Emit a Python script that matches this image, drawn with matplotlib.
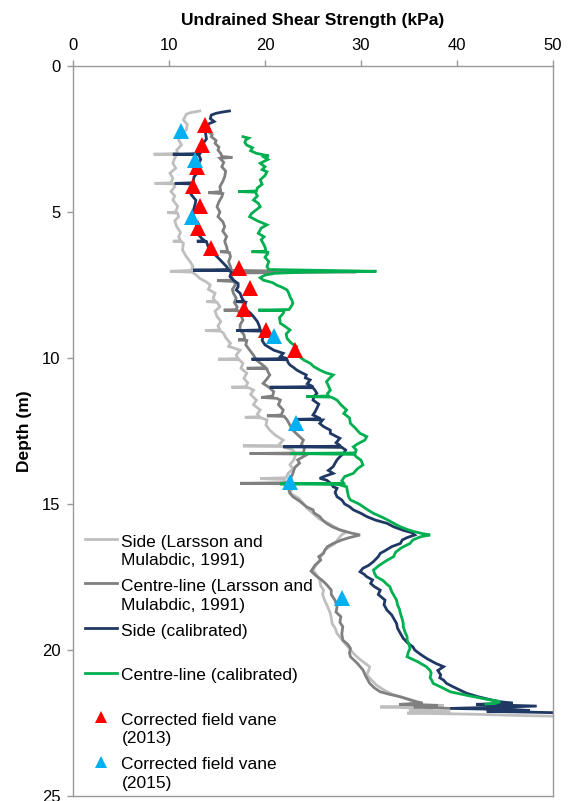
import numpy as np
import matplotlib
matplotlib.use('Agg')
import matplotlib.pyplot as plt
from matplotlib.legend_handler import HandlerLine2D

plt.rcParams['font.family'] = ['Liberation Sans', 'DejaVu Sans']

# profiles: (depth m, su kPa)
side_lm = [
    (1.54, 13.2), (1.6, 12.2), (1.65, 11.8), (1.85, 11.5), (2.0, 11.9), (2.19, 11.8),
    (2.35, 11.2), (2.53, 11.0), (2.7, 11.3), (2.88, 10.8), (3.0, 10.9), (3.02, 8.4),
    (3.04, 10.8), (3.15, 10.6), (3.33, 10.4), (3.5, 10.7), (3.67, 10.1), (3.85, 10.4),
    (4.0, 10.2), (4.02, 8.5), (4.04, 10.5), (4.13, 10.6), (4.3, 10.2), (4.45, 10.6),
    (4.59, 10.4), (4.8, 10.9), (5.0, 10.7), (5.02, 9.8), (5.04, 10.9), (5.16, 11.0),
    (5.3, 10.6), (5.5, 10.8), (5.7, 11.2), (5.85, 11.0), (5.98, 11.2), (6.0, 10.4),
    (6.02, 11.3), (6.07, 11.5), (6.3, 11.4), (6.53, 11.8), (6.7, 12.2), (6.87, 12.5),
    (7.0, 12.3), (7.03, 10.1), (7.06, 12.4), (7.15, 12.8), (7.27, 13.2), (7.4, 13.9),
    (7.5, 14.3), (7.65, 14.1), (7.78, 14.8), (7.95, 14.6), (8.05, 14.8), (8.07, 13.9),
    (8.09, 15.0), (8.24, 15.3), (8.4, 14.8), (8.58, 15.0), (8.75, 15.4), (8.9, 15.1),
    (9.04, 15.3), (9.06, 13.75), (9.08, 15.4), (9.16, 15.7), (9.3, 15.9), (9.5, 16.4),
    (9.6, 16.2), (9.73, 17.4), (9.9, 17.0), (10.02, 17.2), (10.04, 15.1), (10.06, 17.3),
    (10.18, 17.7), (10.35, 17.5), (10.52, 18.1), (10.7, 17.8), (10.85, 18.2), (10.98, 18.0),
    (11.0, 16.5), (11.02, 18.3), (11.1, 18.8), (11.25, 18.5), (11.44, 19.1), (11.6, 18.8),
    (11.78, 19.5), (11.92, 19.2), (12.01, 19.4), (12.03, 17.9), (12.05, 19.6), (12.12, 20.2),
    (12.3, 20.1), (12.47, 20.5), (12.65, 21.1), (12.81, 21.9), (12.95, 21.5), (13.0, 21.6),
    (13.01, 17.7), (13.03, 21.8), (13.15, 22.9), (13.3, 23.2), (13.49, 23.0), (13.65, 22.6),
    (13.8, 22.9), (13.95, 22.4), (14.1, 22.2), (14.13, 19.5), (14.16, 22.0), (14.35, 22.3),
    (14.5, 22.8), (14.63, 22.6), (14.8, 23.5), (14.98, 24.0), (15.15, 24.4), (15.32, 25.0),
    (15.5, 25.6), (15.66, 26.6), (15.85, 27.6), (15.95, 28.5), (16.05, 28.0), (16.2, 27.6),
    (16.35, 27.3), (16.55, 26.3), (16.75, 25.9), (16.92, 25.7), (17.1, 25.3), (17.26, 25.0),
    (17.4, 25.3), (17.6, 25.7), (17.8, 25.8), (17.95, 26.1), (18.1, 26.0), (18.29, 26.2),
    (18.5, 26.5), (18.74, 26.8), (18.9, 26.9), (19.1, 27.0), (19.25, 27.3), (19.43, 27.5),
    (19.6, 27.9), (19.8, 28.4), (19.95, 28.8), (20.11, 29.2), (20.3, 29.8), (20.45, 30.4),
    (20.57, 30.9), (20.7, 30.8), (20.85, 30.6), (21.03, 31.1), (21.2, 31.6), (21.35, 32.3),
    (21.48, 33.0), (21.62, 34.2), (21.77, 35.6), (21.85, 35.0), (21.9, 38.6), (21.95, 32.0),
    (22.0, 37.5), (22.05, 35.0), (22.11, 39.3), (22.16, 34.8), (22.2, 42.0), (22.24, 46.2),
    (22.28, 52.0),
]

centre_lm = [
    (2.25, 14.1), (2.35, 14.5), (2.42, 14.4), (2.55, 14.9), (2.65, 14.8), (2.78, 15.2),
    (2.88, 15.1), (3.0, 15.4), (3.1, 15.5), (3.13, 16.6), (3.16, 15.3), (3.3, 15.7),
    (3.45, 15.5), (3.6, 15.9), (3.79, 15.8), (3.95, 15.6), (4.13, 15.3), (4.3, 15.4),
    (4.34, 14.1), (4.37, 15.6), (4.48, 15.5), (4.65, 15.2), (4.82, 15.0), (5.0, 15.3),
    (5.16, 15.1), (5.33, 15.6), (5.5, 15.8), (5.65, 15.6), (5.84, 16.0), (6.0, 15.8),
    (6.19, 16.0), (6.34, 16.1), (6.36, 15.3), (6.39, 16.3), (6.53, 16.4), (6.7, 16.2),
    (6.87, 16.4), (7.0, 16.5), (7.05, 29.5), (7.09, 16.6), (7.21, 16.5), (7.33, 16.7),
    (7.35, 15.0), (7.38, 16.8), (7.5, 16.9), (7.65, 16.6), (7.78, 16.7), (7.95, 17.0),
    (8.1, 16.8), (8.25, 17.1), (8.34, 17.0), (8.36, 15.7), (8.38, 17.2), (8.55, 17.5),
    (8.7, 17.7), (8.87, 17.4), (9.04, 17.4), (9.2, 17.8), (9.36, 17.9), (9.38, 17.2),
    (9.4, 18.1), (9.55, 18.0), (9.73, 18.4), (9.9, 18.8), (10.07, 19.1), (10.2, 19.6),
    (10.3, 20.0), (10.33, 20.1), (10.35, 18.1), (10.37, 20.2), (10.47, 20.3), (10.58, 20.5),
    (10.72, 20.2), (10.87, 19.8), (11.0, 20.4), (11.15, 20.9), (11.3, 20.8), (11.35, 19.6),
    (11.38, 21.2), (11.44, 21.6), (11.6, 21.4), (11.78, 21.9), (11.95, 21.7), (11.98, 20.2),
    (12.0, 22.0), (12.12, 22.3), (12.3, 22.6), (12.47, 22.9), (12.6, 23.3), (12.69, 23.6),
    (12.81, 24.0), (12.95, 23.8), (13.1, 24.1), (13.25, 24.0), (13.27, 18.4), (13.29, 24.2),
    (13.32, 24.3), (13.49, 23.4), (13.6, 23.6), (13.75, 23.1), (13.95, 22.9), (14.1, 22.7),
    (14.27, 22.8), (14.29, 17.4), (14.31, 22.6), (14.41, 22.6), (14.55, 22.5), (14.63, 22.6),
    (14.75, 22.9), (14.9, 23.6), (15.09, 24.3), (15.2, 25.0), (15.3, 25.1), (15.43, 25.7),
    (15.55, 26.0), (15.66, 26.4), (15.78, 27.0), (15.89, 27.8), (15.98, 28.8), (16.06, 29.9),
    (16.15, 28.8), (16.23, 28.0), (16.35, 27.1), (16.46, 26.5), (16.6, 26.2), (16.69, 26.1),
    (16.8, 25.6), (16.92, 25.8), (17.1, 25.2), (17.3, 24.8), (17.45, 25.3), (17.6, 25.9),
    (17.72, 26.3), (17.83, 26.6), (17.95, 26.9), (18.1, 26.9), (18.3, 27.3), (18.52, 27.5),
    (18.7, 27.4), (18.86, 27.9), (19.05, 27.8), (19.2, 28.1), (19.45, 28.0), (19.66, 28.1),
    (19.8, 28.6), (19.94, 28.9), (20.1, 28.8), (20.23, 28.9), (20.45, 29.6), (20.68, 30.2),
    (20.9, 30.5), (21.14, 30.9), (21.3, 31.4), (21.43, 32.0), (21.52, 33.0), (21.6, 34.1),
    (21.68, 34.9), (21.77, 35.8), (21.82, 36.4), (21.86, 34.0), (21.9, 38.0), (21.95, 35.5),
    (22.0, 39.3),
]

side_cal = [
    (1.54, 16.3), (1.58, 15.5), (1.62, 14.9), (1.68, 14.4), (1.8, 14.3), (1.9, 14.7),
    (2.0, 14.0), (2.15, 14.2), (2.3, 13.8), (2.5, 13.9), (2.67, 13.5), (2.85, 13.6),
    (3.0, 13.2), (3.02, 10.4), (3.04, 13.1), (3.2, 13.3), (3.45, 12.9), (3.6, 13.1),
    (3.8, 12.6), (4.0, 12.5), (4.02, 10.6), (4.04, 12.4), (4.2, 12.6), (4.4, 12.3),
    (4.6, 12.8), (4.76, 12.7), (5.0, 12.5), (5.2, 12.6), (5.4, 12.9), (5.6, 12.8),
    (5.75, 13.0), (5.9, 13.4), (5.98, 13.7), (6.0, 12.9), (6.02, 13.9), (6.2, 14.1),
    (6.35, 14.4), (6.53, 15.0), (6.7, 15.5), (6.87, 16.0), (6.97, 16.2), (6.99, 12.5),
    (7.01, 16.3), (7.07, 16.5), (7.21, 16.35), (7.33, 16.7), (7.45, 17.2), (7.56, 17.2),
    (7.67, 17.0), (7.78, 17.4), (7.95, 17.6), (8.05, 17.8), (8.07, 17.0), (8.09, 18.0),
    (8.2, 17.9), (8.36, 18.1), (8.47, 18.5), (8.58, 18.8), (8.75, 19.2), (8.9, 19.4),
    (9.04, 19.5), (9.06, 17.0), (9.08, 19.6), (9.25, 19.8), (9.4, 19.7), (9.55, 20.0),
    (9.65, 20.5), (9.73, 20.9), (9.84, 21.9), (9.95, 21.6), (10.02, 22.3), (10.04, 18.6),
    (10.06, 22.3), (10.15, 22.4), (10.24, 22.6), (10.33, 23.0), (10.41, 23.3), (10.5, 23.8),
    (10.58, 24.3), (10.68, 24.2), (10.75, 24.7), (10.88, 24.4), (10.98, 25.0), (11.0, 20.5),
    (11.02, 25.0), (11.1, 25.2), (11.21, 25.4), (11.32, 25.1), (11.44, 25.0), (11.58, 25.6),
    (11.72, 25.4), (11.85, 25.2), (11.95, 25.0), (12.08, 25.8), (12.1, 23.3), (12.12, 26.0),
    (12.24, 25.7), (12.35, 26.1), (12.47, 26.8), (12.58, 26.8), (12.75, 27.8), (12.9, 27.4),
    (13.02, 27.9), (13.04, 21.9), (13.06, 28.0), (13.15, 28.4), (13.26, 28.2), (13.38, 27.8),
    (13.49, 27.5), (13.6, 27.3), (13.72, 27.1), (13.85, 26.6), (13.95, 27.1), (14.05, 26.2),
    (14.12, 25.7), (14.18, 26.4), (14.3, 26.9), (14.41, 27.1), (14.46, 27.5), (14.6, 27.3),
    (14.75, 27.5), (14.86, 28.0), (15.0, 28.3), (15.09, 28.8), (15.2, 29.2), (15.32, 30.0),
    (15.43, 30.6), (15.55, 31.5), (15.66, 32.7), (15.78, 33.4), (15.9, 34.4), (15.98, 35.3),
    (16.06, 35.6), (16.15, 34.8), (16.23, 34.3), (16.35, 34.1), (16.46, 33.2), (16.6, 32.5),
    (16.69, 32.0), (16.8, 31.8), (16.97, 31.3), (17.1, 30.8), (17.2, 30.2), (17.32, 29.9),
    (17.4, 30.3), (17.49, 30.6), (17.6, 31.2), (17.72, 31.0), (17.83, 31.4), (17.95, 32.0),
    (18.1, 31.8), (18.29, 32.5), (18.45, 32.4), (18.63, 32.7), (18.8, 33.2), (18.97, 33.5),
    (19.09, 33.7), (19.25, 33.8), (19.43, 34.1), (19.6, 34.4), (19.77, 34.9), (19.89, 35.4),
    (20.0, 35.6), (20.15, 36.2), (20.3, 36.9), (20.46, 37.8), (20.57, 38.6), (20.7, 38.0),
    (20.85, 38.3), (20.95, 38.2), (21.03, 38.6), (21.14, 38.9), (21.26, 39.6), (21.37, 40.3),
    (21.48, 41.0), (21.6, 42.2), (21.71, 43.6), (21.77, 44.5), (21.82, 45.8), (21.86, 42.0),
    (21.92, 48.3), (21.96, 44.0), (22.0, 39.3), (22.04, 46.0), (22.07, 47.6), (22.1, 43.1),
    (22.13, 48.0), (22.16, 52.0),
]

centre_cal = [
    (2.42, 17.7), (2.47, 18.3), (2.53, 18.0), (2.62, 17.9), (2.71, 18.1), (2.8, 18.7),
    (2.9, 18.5), (2.99, 19.1), (3.08, 20.4), (3.12, 19.9), (3.2, 20.3), (3.33, 19.5),
    (3.45, 20.0), (3.55, 19.7), (3.62, 20.2), (3.75, 20.0), (3.9, 19.5), (4.05, 19.7),
    (4.18, 19.2), (4.28, 19.1), (4.3, 17.2), (4.32, 19.0), (4.45, 19.2), (4.59, 18.8),
    (4.7, 19.3), (4.82, 19.5), (4.95, 19.0), (5.05, 18.6), (5.16, 18.4), (5.3, 19.2),
    (5.44, 20.2), (5.55, 19.6), (5.73, 19.3), (5.85, 19.9), (5.95, 19.6), (6.07, 19.8),
    (6.2, 20.0), (6.34, 20.1), (6.36, 18.6), (6.38, 20.3), (6.42, 20.3), (6.55, 20.0),
    (6.7, 20.4), (6.87, 20.2), (6.97, 20.4), (7.0, 26.0), (7.03, 31.6), (7.06, 24.0),
    (7.1, 21.0), (7.16, 20.0), (7.25, 19.5), (7.33, 19.8), (7.42, 20.8), (7.5, 21.2),
    (7.58, 21.8), (7.67, 22.3), (7.8, 22.5), (7.9, 22.6), (8.02, 22.8), (8.13, 22.9),
    (8.25, 22.7), (8.34, 22.5), (8.36, 19.3), (8.38, 22.0), (8.47, 21.9), (8.62, 21.5),
    (8.81, 21.6), (8.92, 22.1), (9.04, 22.6), (9.18, 22.2), (9.33, 22.3), (9.48, 22.7),
    (9.61, 23.3), (9.75, 23.1), (9.85, 23.5), (9.96, 23.6), (10.08, 24.1), (10.18, 24.7),
    (10.3, 25.1), (10.41, 25.7), (10.5, 26.3), (10.58, 27.1), (10.7, 26.7), (10.81, 26.4),
    (10.95, 26.6), (11.1, 26.8), (11.22, 26.5), (11.3, 26.6), (11.32, 24.3), (11.34, 26.9),
    (11.44, 27.5), (11.6, 27.9), (11.78, 28.5), (11.9, 28.2), (12.05, 28.8), (12.24, 28.9),
    (12.4, 29.4), (12.58, 29.9), (12.69, 30.6), (12.81, 30.4), (12.95, 29.6), (13.04, 29.2),
    (13.15, 29.5), (13.25, 29.4), (13.27, 22.6), (13.3, 29.3), (13.38, 29.5), (13.5, 30.0),
    (13.66, 30.2), (13.8, 29.6), (13.95, 29.2), (14.06, 28.3), (14.2, 28.0), (14.29, 28.2),
    (14.31, 21.6), (14.33, 27.6), (14.41, 28.5), (14.6, 28.6), (14.75, 28.7), (14.86, 28.9),
    (15.0, 29.8), (15.09, 30.2), (15.2, 30.7), (15.32, 31.3), (15.45, 32.2), (15.55, 32.8),
    (15.66, 33.4), (15.78, 34.1), (15.88, 34.9), (15.95, 35.6), (16.02, 36.5), (16.06, 37.2),
    (16.12, 36.2), (16.23, 35.4), (16.35, 35.1), (16.5, 34.2), (16.65, 33.6), (16.8, 33.4),
    (16.95, 32.6), (17.1, 31.9), (17.26, 31.3), (17.37, 31.4), (17.49, 31.6), (17.62, 32.3),
    (17.72, 32.6), (17.83, 33.0), (18.0, 33.2), (18.17, 33.5), (18.29, 33.7), (18.45, 33.8),
    (18.6, 34.0), (18.74, 34.1), (18.95, 34.3), (19.09, 34.4), (19.2, 34.4), (19.4, 34.6),
    (19.54, 34.8), (19.66, 34.8), (19.8, 35.0), (19.94, 35.1), (20.1, 34.9), (20.23, 34.8),
    (20.4, 35.9), (20.57, 36.8), (20.7, 37.2), (20.8, 37.3), (20.95, 37.2), (21.05, 37.4),
    (21.14, 37.5), (21.28, 38.4), (21.43, 39.3), (21.55, 41.0), (21.66, 42.7), (21.77, 44.5),
    (21.83, 44.0), (21.85, 43.0),
]

# corrected field vane points
vane13_depth = [2.02, 2.71, 3.45, 4.11, 4.8, 5.56, 6.22, 6.93, 7.61, 8.33, 9.04, 9.73]
vane13_su = [13.8, 13.4, 12.9, 12.5, 13.2, 13.05, 14.4, 17.3, 18.4, 17.8, 20.1, 23.1]
vane15_depth = [2.21, 3.22, 5.16, 9.25, 12.24, 14.24, 18.23]
vane15_su = [11.3, 12.7, 12.4, 20.9, 23.2, 22.6, 28.0]


class TopLineHandler(HandlerLine2D):
    # put the legend key next to the first line of a two-line label
    def create_artists(self, legend, orig_handle, xdescent, ydescent,
                       width, height, fontsize, trans):
        shift = 0.72 * fontsize
        return super().create_artists(legend, orig_handle, xdescent,
                                      ydescent - 2 * shift, width, height,
                                      fontsize, trans)


fig = plt.figure(figsize=(5.7, 8.01), dpi=100)
ax = fig.add_axes([0.1281, 0.0062, 0.8421, 0.9114])

lines = []
for data, col, lab in [
        (side_lm, '#BFBFBF', 'Side (Larsson and\nMulabdic, 1991)'),
        (centre_lm, '#808080', 'Centre-line (Larsson and\nMulabdic, 1991)'),
        (side_cal, '#1F3864', 'Side (calibrated)\n '),
        (centre_cal, '#00B050', 'Centre-line (calibrated)\n ')]:
    d, su = np.array(data).T
    ln, = ax.plot(su, d, color=col, lw=2, label=lab, solid_joinstyle='miter')
    lines.append(ln)

m1, = ax.plot(vane13_su, vane13_depth, ls='none', marker='^', ms=12,
              color='#FF0000', mew=0, label='Corrected field vane\n(2013)', zorder=5)
m2, = ax.plot(vane15_su, vane15_depth, ls='none', marker='^', ms=12,
              color='#00B0F0', mew=0, label='Corrected field vane\n(2015)', zorder=6)

ax.set_xlim(0, 50)
ax.set_ylim(25, 0)
ax.set_xticks(range(0, 51, 10))
ax.set_yticks(range(0, 26, 5))
ax.xaxis.tick_top()
ax.xaxis.set_label_position('top')
ax.set_xlabel('Undrained Shear Strength (kPa)', fontsize=12.5, fontweight='bold', labelpad=9)
ax.set_ylabel('Depth (m)', fontsize=12.5, fontweight='bold', labelpad=7)
ax.tick_params(axis='both', labelsize=12, length=4, width=1, color='#999999', pad=5.5)
ax.tick_params(axis='y', pad=5)
for s in ax.spines.values():
    s.set_color('#999999')
    s.set_linewidth(1)

leg = ax.legend(handles=lines + [m1, m2], loc='upper left',
                bbox_to_anchor=(0.025, 0.358), frameon=False, fontsize=12.5,
                handlelength=1.85, handletextpad=0.25, labelspacing=0.63,
                borderpad=0, borderaxespad=0, markerscale=0.72,
                handler_map={plt.Line2D: TopLineHandler()})
for t in leg.get_texts():
    t.set_linespacing(1.3)

fig.savefig('out.png', dpi=100)
